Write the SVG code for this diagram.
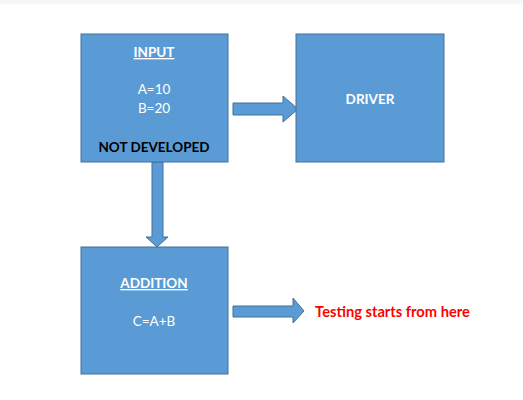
<svg xmlns="http://www.w3.org/2000/svg" width="523" height="400" viewBox="0 0 523 400">
<style>
.box{fill:#5b9bd5;stroke:#41719c;stroke-width:1}
.arr{fill:#5b9bd5;stroke:#41719c;stroke-width:1}
text{font-family:Lato,"Open Sans","Liberation Sans",sans-serif;font-size:13.5px;text-anchor:middle}
.w{fill:#ffffff}
.b{font-weight:bold}
.u{text-decoration:underline}
</style>
<rect x="0" y="0" width="523" height="400" fill="#ffffff"/>
<rect x="0" y="0" width="523" height="4" fill="#f7f7f7"/>
<g id="connectors">
<path class="arr" d="M233,103 H283 V96 L298,109 L283,122 V115 H233 Z"/>
<path class="arr" d="M152,162 V237 H146 L157,247 L168,237 H163 V162 Z"/>
<path class="arr" d="M233,306 H293 V298 L304,311 L293,323 V317 H233 Z"/>
</g>
<g id="input">
<rect class="box" x="81" y="34" width="147" height="128"/>
<text class="w b u" x="154" y="57">INPUT</text>
<text class="w" x="154" y="94">A=10</text>
<text class="w" x="154" y="113">B=20</text>
<text class="b" x="154" y="152" fill="#000000">NOT DEVELOPED</text>
</g>
<g id="driver">
<rect class="box" x="296" y="34" width="148" height="128"/>
<text class="w b" x="370" y="104">DRIVER</text>
</g>
<g id="addition">
<rect class="box" x="81" y="247" width="147" height="127"/>
<text class="w b u" x="154" y="288">ADDITION</text>
<text class="w" x="154" y="326">C=A+B</text>
</g>
<g id="note">
<text class="b" x="392.5" y="317" fill="#ff0000" style="font-size:14.7px">Testing starts from here</text>
</g>
</svg>
